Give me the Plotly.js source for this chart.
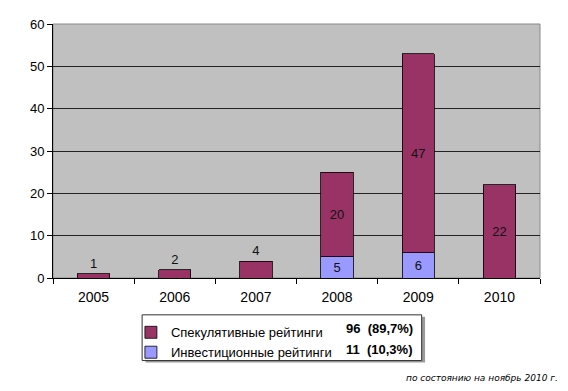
<!DOCTYPE html>
<html>
<head>
<meta charset="utf-8">
<script src="https://cdn.plot.ly/plotly-3.0.1.min.js"></script>
<style>html,body{margin:0;padding:0;background:#fff;}#chart{width:568px;height:391px;}</style>
</head>
<body>
<div id="chart"></div>
<script>
const years = ['2005', '2006', '2007', '2008', '2009', '2010'];
const speculative = [1, 2, 4, 20, 47, 22];
const investment = [null, null, null, 5, 6, null];
const seriesNames = ['Спекулятивные рейтинги', 'Инвестиционные рейтинги'];
const seriesTotals = ['96  (89,7%)', '11  (10,3%)'];
const footnote = 'по состоянию на ноябрь 2010 г.';
const yTicks = [0, 10, 20, 30, 40, 50, 60];

const FONT = 'Liberation Sans, Arial, sans-serif';

const traces = [
  {
    type: 'bar', x: years, y: investment, name: seriesNames[1],
    marker: {color: '#9999FF', line: {color: '#000', width: 0.8}},
    text: investment.map(v => v == null ? '' : String(v)),
    textposition: 'inside', insidetextanchor: 'middle',
    textfont: {family: FONT, size: 13, color: '#111'},
    hoverinfo: 'none'
  },
  {
    type: 'bar', x: years, y: speculative, name: seriesNames[0],
    marker: {color: '#993366', line: {color: '#000', width: 0.8}},
    text: speculative.map(String),
    textposition: speculative.map(v => v < 10 ? 'outside' : 'inside'),
    insidetextanchor: 'middle',
    textfont: {family: FONT, size: 13, color: '#111'},
    outsidetextfont: {family: FONT, size: 13, color: '#111'},
    insidetextfont: {family: FONT, size: 13, color: '#111'},
    cliponaxis: false,
    hoverinfo: 'none'
  }
];

const layout = {
  width: 568, height: 391,
  margin: {l: 53, r: 28, t: 24, b: 113},
  paper_bgcolor: '#fff', plot_bgcolor: '#C0C0C0',
  barmode: 'stack', bargap: 0.6,
  font: {family: FONT, color: '#000'},
  xaxis: {
    type: 'category', tickfont: {size: 14, family: FONT},
    ticks: 'outside', tickson: 'boundaries', ticklen: 5, tickcolor: '#000',
    ticklabelstandoff: 6,
    showline: true, linecolor: '#000', linewidth: 1, showgrid: false,
    fixedrange: true
  },
  yaxis: {
    range: [0, 60], tickvals: yTicks, ticktext: yTicks.map(String),
    tickfont: {size: 13, family: FONT},
    ticks: 'outside', ticklen: 5, tickcolor: '#000',
    showline: true, linecolor: '#000', linewidth: 1,
    showgrid: true, gridcolor: '#222', gridwidth: 1,
    zeroline: false, fixedrange: true
  },
  showlegend: true,
  legend: {
    x: 0.16, xanchor: 'left', y: -0.155, yanchor: 'top',
    bgcolor: 'rgba(0,0,0,0)', borderwidth: 0,
    font: {family: FONT, size: 13, color: '#000'},
    traceorder: 'reversed', tracegroupgap: 0
  },
  shapes: [
    {type: 'rect', xref: 'paper', yref: 'paper', x0: 0, x1: 1, y0: 0, y1: 1,
     line: {color: '#8a8a8a', width: 1}, layer: 'below'},
    {type: 'rect', xref: 'paper', yref: 'paper', x0: 0.190, x1: 0.764, y0: -0.153, y1: -0.333,
     line: {width: 0}, fillcolor: '#9a9a9a', layer: 'below'},
    {type: 'rect', xref: 'paper', yref: 'paper', x0: 0.183, x1: 0.757, y0: -0.145, y1: -0.325,
     line: {color: '#333', width: 1}, fillcolor: '#fff', layer: 'below'}
  ],
  annotations: [
    {xref: 'paper', yref: 'paper', x: 0.743, y: -0.2, xanchor: 'right', yanchor: 'middle',
     text: '<b>' + seriesTotals[0] + '</b>', showarrow: false,
     font: {family: FONT, size: 13, color: '#000'}},
    {xref: 'paper', yref: 'paper', x: 0.743, y: -0.283, xanchor: 'right', yanchor: 'middle',
     text: '<b>' + seriesTotals[1] + '</b>', showarrow: false,
     font: {family: FONT, size: 13, color: '#000'}},
    {xref: 'paper', yref: 'paper', x: 1.042, y: -0.394, xanchor: 'right', yanchor: 'middle',
     text: '<i>' + footnote + '</i>', showarrow: false,
     font: {family: 'DejaVu Sans, Verdana, sans-serif', size: 9, color: '#000'}}
  ]
};

Plotly.newPlot('chart', traces, layout, {displayModeBar: false, staticPlot: true});
</script>
</body>
</html>
